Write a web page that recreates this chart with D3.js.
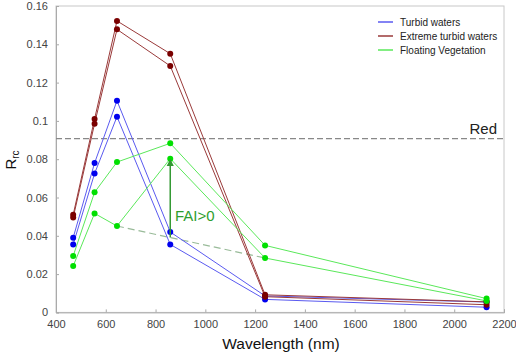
<!DOCTYPE html>
<html><head><meta charset="utf-8">
<script src="https://cdn.jsdelivr.net/npm/d3@7"></script>
<style>body{margin:0;background:#fff}svg{display:block;font-family:Arial,"Liberation Sans",sans-serif}</style>
</head><body><svg id="c" width="516" height="355"></svg>
<script>
const wavelengths = [469, 555, 645, 859, 1240, 2130];
const turbidA = [0.039, 0.078, 0.1105, 0.042, 0.0086, 0.0054];
const turbidB = [0.0355, 0.0725, 0.1022, 0.0355, 0.0068, 0.0027];
const extremeA = [0.051, 0.101, 0.1522, 0.1351, 0.0092, 0.0055];
const extremeB = [0.0495, 0.0985, 0.1478, 0.1287, 0.0082, 0.0040];
const vegA = [0.0295, 0.0627, 0.0785, 0.0883, 0.035, 0.0072];
const vegB = [0.0242, 0.0517, 0.0451, 0.0803, 0.0284, 0.0060];
const redLevel = 0.0907;
const faiBaseline = [[645, 0.0451], [1240, 0.0284]];
const xTicks = [400, 600, 800, 1000, 1200, 1400, 1600, 1800, 2000, 2200];
const yTicks = [0, 0.02, 0.04, 0.06, 0.08, 0.1, 0.12, 0.14, 0.16];
const legendLabels = ["Turbid waters", "Extreme turbid waters", "Floating Vegetation"];

const svg = d3.select("#c");
const x = d3.scaleLinear().domain([400, 2200]).range([56, 504]);
const y = d3.scaleLinear().domain([0, 0.16]).range([312.4, 6]);

// frame
svg.append("rect").attr("x", 56).attr("y", 6).attr("width", 448).attr("height", 306.4)
  .attr("fill", "none").attr("stroke", "#c8c8c8").attr("stroke-width", 1);

const xAxis = svg.append("g").attr("transform", "translate(0,312.4)")
  .call(d3.axisBottom(x).tickValues(xTicks).tickSize(-3).tickPadding(8).tickFormat(d3.format("d")));
const yAxis = svg.append("g").attr("transform", "translate(56,0)")
  .call(d3.axisLeft(y).tickValues(yTicks).tickSize(-3).tickPadding(8).tickFormat(d => d === 0 ? "0" : String(+d.toFixed(2))));
[xAxis, yAxis].forEach(g => {
  g.selectAll(".domain").attr("stroke", "#aaa");
  g.selectAll(".tick line").attr("stroke", "#aaa");
  g.selectAll("text").attr("fill", "#444").style("font-size", "11px").style("font-family", "Arial, 'Liberation Sans', sans-serif");
});

// red dashed line
svg.append("line").attr("x1", x(400)).attr("x2", x(2200)).attr("y1", y(redLevel)).attr("y2", y(redLevel))
  .attr("stroke", "#888").attr("stroke-width", 1.2).attr("stroke-dasharray", "6,3");
svg.append("text").attr("x", 497).attr("y", y(redLevel) - 5).attr("text-anchor", "end")
  .style("font-size", "15px").attr("fill", "#222").text("Red");

// FAI baseline
const line = d3.line().x(d => x(d[0])).y(d => y(d[1]));
svg.append("path").attr("d", line(faiBaseline)).attr("fill", "none")
  .attr("stroke", "#99bb99").attr("stroke-width", 1.2).attr("stroke-dasharray", "7,4");

const series = [
  {vals: [turbidA, turbidB], line: "#5a5af0", dot: "#0000ee"},
  {vals: [extremeA, extremeB], line: "#9a3a3a", dot: "#7a0000"},
  {vals: [vegA, vegB], line: "#5ae85a", dot: "#00e000"}
];
series.forEach(s => {
  s.vals.forEach(v => {
    const pts = wavelengths.map((w, i) => [w, v[i]]);
    svg.append("path").attr("d", line(pts)).attr("fill", "none").attr("stroke", s.line).attr("stroke-width", 1);
  });
});
series.forEach(s => {
  s.vals.forEach(v => {
    svg.selectAll(null).data(wavelengths.map((w, i) => [w, v[i]])).enter().append("circle")
      .attr("cx", d => x(d[0])).attr("cy", d => y(d[1])).attr("r", 3).attr("fill", s.dot);
  });
});

// FAI arrow
const baseAt859 = faiBaseline[0][1] + (faiBaseline[1][1] - faiBaseline[0][1]) * (859 - 645) / (1240 - 645);
svg.append("defs").append("marker").attr("id", "ah").attr("viewBox", "0 0 10 10").attr("refX", 9).attr("refY", 5)
  .attr("markerWidth", 5).attr("markerHeight", 5).attr("orient", "auto")
  .append("path").attr("d", "M0,0L10,5L0,10z").attr("fill", "#339933");
svg.append("line").attr("x1", x(859)).attr("x2", x(859)).attr("y1", y(baseAt859)).attr("y2", y(vegB[3]) + 1)
  .attr("stroke", "#339933").attr("stroke-width", 1.5).attr("marker-end", "url(#ah)");
svg.append("text").attr("x", 175).attr("y", 221).style("font-size", "15px").attr("fill", "#2e9e2e").text("FAI>0");

// legend
const leg = svg.append("g");
legendLabels.forEach((t, i) => {
  const yy = 22 + i * 14;
  leg.append("line").attr("x1", 378).attr("x2", 393).attr("y1", yy).attr("y2", yy)
    .attr("stroke", series[i].line).attr("stroke-width", 1.5);
  leg.append("text").attr("x", 400).attr("y", yy + 3.5).style("font-size", "10px").attr("fill", "#222").text(t);
});

// axis titles
svg.append("text").attr("x", 281).attr("y", 349).attr("text-anchor", "middle")
  .style("font-size", "15.5px").attr("fill", "#111").text("Wavelength (nm)");
const yl = svg.append("text").attr("transform", "translate(16,160) rotate(-90)").attr("text-anchor", "middle")
  .attr("fill", "#111");
yl.append("tspan").style("font-size", "15px").text("R");
yl.append("tspan").style("font-size", "10px").attr("dy", 3).text("rc");
</script></body></html>
